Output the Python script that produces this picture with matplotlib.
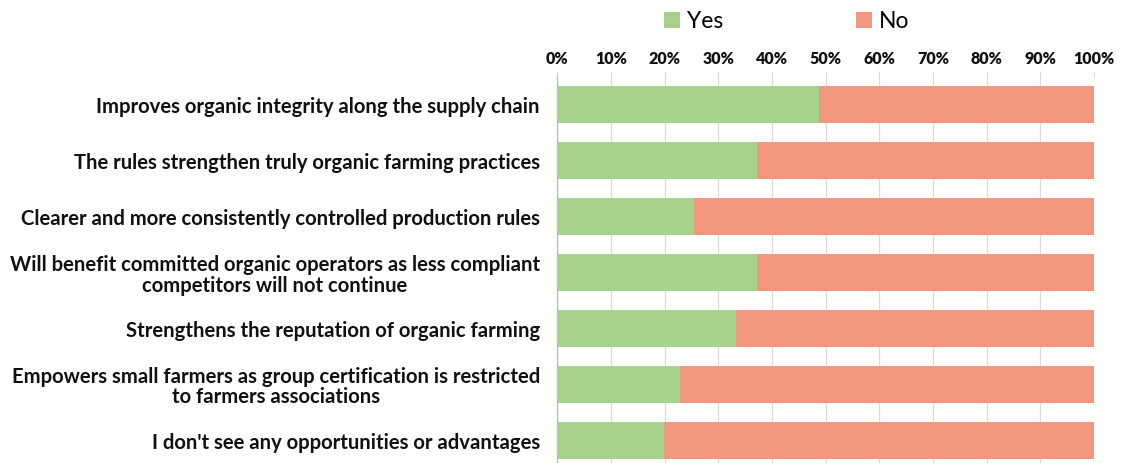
import matplotlib
matplotlib.use("Agg")
import matplotlib.pyplot as plt
from matplotlib.ticker import PercentFormatter

# odpovědi (podíl v %)
categories = [
    "Improves organic integrity along the supply chain",
    "The rules strengthen truly organic farming practices",
    "Clearer and more consistently controlled production rules",
    "Will benefit committed organic operators as less compliant\ncompetitors will not continue",
    "Strengthens the reputation of organic farming",
    "Empowers small farmers as group certification is restricted\nto farmers associations",
    "I don't see any opportunities or advantages",
]
yes_vals = [48.7, 37.3, 25.4, 37.3, 33.4, 22.8, 19.9]
no_vals = [100 - v for v in yes_vals]
x_ticks = [0, 10, 20, 30, 40, 50, 60, 70, 80, 90, 100]

green = "#A9D18E"
salmon = "#F1967F"

plt.rcParams['font.family'] = ['Lato', 'DejaVu Sans']

fig = plt.figure(figsize=(11.21, 4.63), dpi=100)
ax = fig.add_axes([0.497, -0.012, 0.479, 0.846])

y = range(len(categories))
ax.barh(y, yes_vals, height=0.66, color=green, label="Yes", zorder=2)
ax.barh(y, no_vals, left=yes_vals, height=0.66, color=salmon, label="No", zorder=2)

ax.set_ylim(len(categories) - 0.5, -0.5)
ax.set_xlim(0, 100)
ax.set_yticks(list(y))
ax.set_yticklabels(categories, fontsize=14.6, fontweight="bold", ha="right",
                   multialignment="center", color="#111111", linespacing=1.05)
ax.tick_params(axis="y", length=0, pad=12.5)

ax.xaxis.tick_top()
ax.set_xticks(x_ticks)
ax.xaxis.set_major_formatter(PercentFormatter(decimals=0))
for lbl in ax.get_xticklabels():
    lbl.set_fontweight("heavy")
ax.tick_params(axis="x", labelsize=11.5, length=4, color="#D9D9D9", pad=3,
               labelcolor="#111111")

ax.grid(axis="x", color="#D9D9D9", linewidth=0.9, zorder=0)
for s in ["top", "right", "bottom"]:
    ax.spines[s].set_visible(False)
ax.spines["left"].set_color("#BFBFBF")
ax.spines["left"].set_linewidth(1.0)

fig.legend(loc="upper left", bbox_to_anchor=(0.574, 1.02), ncol=2, frameon=False,
           fontsize=16.5, handlelength=0.7, handleheight=0.7, handletextpad=0.3,
           columnspacing=5.8)

fig.savefig("out.png", dpi=100)
